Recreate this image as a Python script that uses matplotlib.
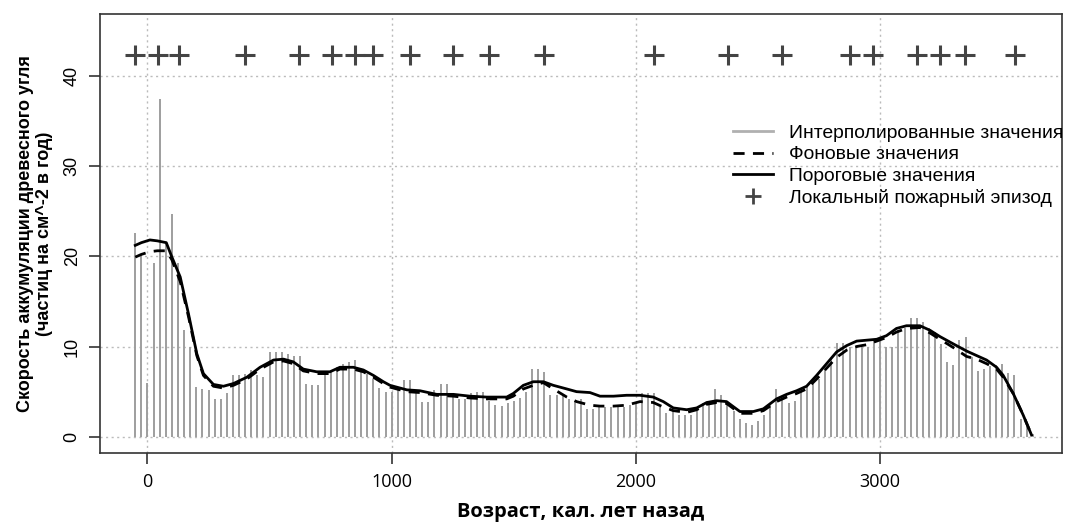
import numpy as np
import matplotlib
matplotlib.use('Agg')
import matplotlib.pyplot as plt
from matplotlib.lines import Line2D

# Интерполированные значения (25-летний шаг)
ages = np.arange(-50, 3626, 25)
charcoal = [22.6, 20.2, 6.0, 19.3, 37.4, 21.5, 24.7, 19.3, 11.8, 9.9,
            5.5, 5.3, 5.2, 4.2, 4.2, 4.8, 6.8, 6.8, 7.0, 7.4,
            6.8, 6.6, 9.4, 9.4, 9.4, 9.2, 9.0, 9.0, 5.9, 5.7,
            5.7, 7.0, 7.2, 7.7, 8.1, 8.3, 8.5, 7.4, 7.0, 6.4,
            5.4, 5.0, 5.0, 5.3, 6.3, 6.3, 5.2, 3.9, 3.9, 5.2,
            5.9, 5.9, 4.8, 4.2, 4.2, 4.8, 5.0, 5.0, 4.0, 3.5,
            3.4, 3.7, 4.0, 4.3, 5.0, 7.5, 7.5, 7.2, 4.6, 4.6,
            4.6, 4.2, 4.0, 4.2, 3.1, 3.1, 3.3, 3.3, 3.3, 3.3,
            3.3, 3.5, 3.9, 4.8, 4.8, 4.8, 3.3, 2.6, 2.9, 2.4,
            2.4, 2.4, 2.9, 3.7, 3.9, 5.3, 4.6, 3.8, 2.9, 2.0,
            1.5, 1.3, 1.7, 2.4, 3.5, 5.3, 4.4, 3.7, 4.0, 5.0,
            5.5, 5.9, 6.4, 7.5, 8.6, 10.4, 10.4, 9.9, 9.9, 9.9,
            9.9, 10.7, 11.0, 9.9, 9.9, 11.8, 12.1, 13.2, 13.2, 12.7,
            12.0, 11.6, 10.3, 8.3, 8.0, 10.7, 11.1, 8.8, 7.3, 7.5,
            7.8, 7.9, 8.1, 7.1, 6.8, 2.0, 1.1, 0.3]

# Фоновые и пороговые значения
line_age = [-50, -25, 10, 40, 77, 100, 134, 168, 202, 229, 270, 311, 352, 407,
            461, 516, 557, 597, 638, 693, 747, 788, 843, 884, 925, 966, 993,
            1062, 1116, 1184, 1253, 1321, 1389, 1471, 1498, 1539, 1580, 1621,
            1662, 1717, 1757, 1812, 1853, 1908, 1962, 2017, 2071, 2112, 2153,
            2208, 2249, 2290, 2331, 2371, 2426, 2481, 2522, 2576, 2617, 2658,
            2699, 2740, 2781, 2822, 2863, 2904, 2945, 2986, 3026, 3067, 3108,
            3163, 3204, 3245, 3299, 3354, 3395, 3436, 3477, 3504, 3545, 3586,
            3620]
threshold = [21.2, 21.5, 21.8, 21.7, 21.5, 19.9, 17.7, 13.6, 9.2, 7.0, 5.8,
             5.6, 5.9, 6.6, 7.7, 8.5, 8.6, 8.3, 7.5, 7.2, 7.2, 7.7, 7.7, 7.4,
             6.8, 6.1, 5.7, 5.2, 5.1, 4.7, 4.7, 4.5, 4.4, 4.4, 4.8, 5.7, 6.1,
             6.1, 5.7, 5.3, 5.0, 4.9, 4.5, 4.5, 4.6, 4.6, 4.4, 3.9, 3.2, 3.0,
             3.2, 3.8, 4.0, 3.9, 2.8, 2.8, 3.1, 4.2, 4.7, 5.1, 5.6, 6.8, 8.1,
             9.4, 10.1, 10.6, 10.7, 10.8, 11.2, 12.0, 12.3, 12.3, 11.8, 11.1,
             10.3, 9.5, 9.0, 8.5, 7.7, 6.8, 4.8, 2.4, 0.2]
background = [19.9, 20.2, 20.5, 20.6, 20.6, 19.6, 17.2, 13.3, 9.0, 6.8, 5.6,
              5.4, 5.7, 6.4, 7.5, 8.3, 8.4, 8.1, 7.3, 7.0, 7.0, 7.5, 7.5, 7.2,
              6.6, 5.9, 5.5, 5.0, 4.9, 4.6, 4.5, 4.3, 4.2, 4.2, 4.5, 5.3, 5.7,
              6.0, 5.3, 4.4, 3.9, 3.5, 3.4, 3.4, 3.5, 3.9, 3.8, 3.3, 2.9, 2.7,
              3.0, 3.6, 3.8, 3.7, 2.6, 2.6, 2.9, 3.9, 4.4, 4.8, 5.3, 6.4, 7.6,
              8.8, 9.6, 10.0, 10.2, 10.6, 11.0, 11.6, 12.0, 12.1, 11.5, 10.8,
              9.9, 8.9, 8.6, 8.1, 7.5, 6.6, 4.8, 2.4, 0.2]

# Локальные пожарные эпизоды
peak_age = [-50, 45, 127, 400, 622, 755, 850, 925, 1075, 1250, 1400, 1625,
            2074, 2376, 2597, 2876, 2972, 3149, 3245, 3347, 3552]
peak_level = 42.3

fig = plt.figure(figsize=(10.65, 5.25), dpi=100)
ax = fig.add_axes([0.094, 0.137, 0.903, 0.836])

ax.vlines(ages, 0, charcoal, color='#9e9e9e', lw=1.4, zorder=2)
ax.plot(line_age, background, color='black', lw=2.0, ls=(0, (4, 3)), zorder=3)
ax.plot(line_age, threshold, color='black', lw=2.0, zorder=4)
ax.plot(peak_age, [peak_level] * len(peak_age), ls='none', marker='+',
        ms=14, mew=2.2, color='#444444', zorder=5)

ax.set_xlim(-194, 3744)
ax.set_ylim(-1.8, 46.8)
ax.set_xticks([0, 1000, 2000, 3000])
ax.set_yticks([0, 10, 20, 30, 40])
ax.grid(True, color='#bbbbbb', ls=(0, (1.5, 2.5)), lw=1.0, zorder=0)
ax.set_axisbelow(True)

for s in ax.spines.values():
    s.set_color('#333333')
    s.set_linewidth(1.2)
ax.tick_params(length=8, width=1.2, color='#333333', pad=6)
for lab in ax.get_xticklabels():
    lab.set_fontfamily('Open Sans')
    lab.set_fontsize(13)
for lab in ax.get_yticklabels():
    lab.set_fontfamily('Liberation Sans')
    lab.set_fontsize(13)
    lab.set_rotation(90)
    lab.set_va('center')

ax.set_xlabel('Возраст, кал. лет назад', fontsize=14.5, fontweight='bold',
              family='Open Sans', labelpad=8)
ax.set_ylabel('Скорость аккумуляции древесного угля\n(частиц на см^-2 в год)',
              fontsize=13, fontweight='bold', family='Liberation Sans',
              labelpad=8, linespacing=1.15)

handles = [Line2D([], [], color='#b0b0b0', lw=2),
           Line2D([], [], color='black', lw=2, ls=(0, (4, 3))),
           Line2D([], [], color='black', lw=2),
           Line2D([], [], color='#444444', ls='none', marker='+', ms=11, mew=2)]
labels = ['Интерполированные значения', 'Фоновые значения',
          'Пороговые значения', 'Локальный пожарный эпизод']
ax.legend(handles, labels, loc='upper left', bbox_to_anchor=(0.65, 0.766),
          frameon=False, prop={'family': 'Liberation Sans', 'size': 13.9},
          handlelength=2.1, handletextpad=0.8, labelspacing=0.2,
          borderaxespad=0)

fig.savefig('out.png', dpi=100)
